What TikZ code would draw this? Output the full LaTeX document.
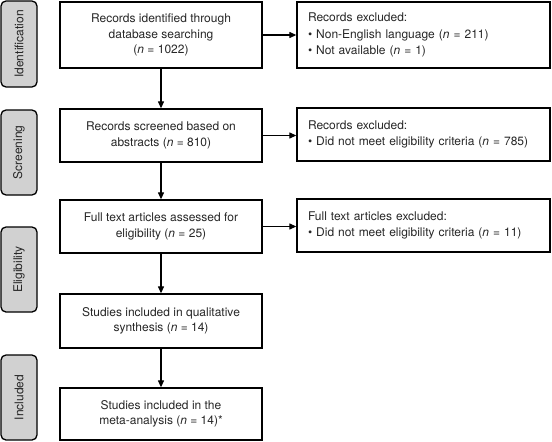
\documentclass[tikz,border=0pt]{standalone}
\usepackage{fontspec}
\setmainfont{TeX Gyre Heros}
\usetikzlibrary{arrows.meta}
\newcommand{\bul}{\textbullet\hspace{4pt}}
\begin{document}
\begin{tikzpicture}[x=1pt,y=-1pt,
  every node/.style={font=\fontsize{12}{15.5}\selectfont, text=black!85},
  mainbox/.style={draw=black, line width=1.3pt, minimum width=202pt, align=center, inner sep=0pt},
  exbox/.style={draw=black, line width=1.3pt, minimum width=253pt, text width=231pt, align=left, inner xsep=11pt, inner ysep=0pt, font=\fontsize{12}{16.5}\selectfont},
  phase/.style={draw=black, line width=1.3pt, fill=black!18, rounded corners=5pt, minimum width=36pt, inner sep=0pt},
  arr/.style={line width=1.2pt, -{Triangle[length=7pt,width=6pt]}}
]
\useasboundingbox (0,0) rectangle (552,442);
% phase labels
\node[phase, minimum height=86pt] (p1) at (19,44) {};
\node[rotate=90] at (p1.center) {Identification};
\node[phase, minimum height=85pt] (p2) at (19,152.5) {};
\node[rotate=90] at (p2.center) {Screening};
\node[phase, minimum height=85pt] (p3) at (19,269.5) {};
\node[rotate=90] at (p3.center) {Eligibility};
\node[phase, minimum height=85pt] (p4) at (19,397.5) {};
\node[rotate=90] at (p4.center) {Included};
% main boxes
\node[mainbox, minimum height=66pt] (b1) at (161,35) {Records identified through\\database searching\\(\textit{n} = 1022)};
\node[mainbox, minimum height=53pt] (b2) at (161,135.5) {Records screened based on\\abstracts (\textit{n} = 810)};
\node[mainbox, minimum height=53pt] (b3) at (161,226.5) {Full text articles assessed for\\eligibility (\textit{n} = 25)};
\node[mainbox, minimum height=54pt] (b4) at (161,321) {Studies included in qualitative\\synthesis (\textit{n} = 14)};
\node[mainbox, minimum height=52pt] (b5) at (161,414) {Studies included in the\\meta-analysis (\textit{n} = 14)*};
% exclusion boxes
\node[exbox, minimum height=66pt] (r1) at (423.5,35) {Records excluded:\\\bul Non-English language (\textit{n} = 211)\\\bul Not available (\textit{n} = 1)};
\node[exbox, minimum height=53pt] (r2) at (423.5,134.5) {Records excluded:\\\bul Did not meet eligibility criteria (\textit{n} = 785)};
\node[exbox, minimum height=53pt] (r3) at (423.5,225.5) {Full text articles excluded:\\\bul Did not meet eligibility criteria (\textit{n} = 11)};
% arrows
\draw[arr] (b1) -- (b2);
\draw[arr] (b2) -- (b3);
\draw[arr] (b3) -- (b4);
\draw[arr] (b4) -- (b5);
\draw[arr] (b1.east) -- (b1.east -| r1.west);
\draw[arr] (b2.east) -- (b2.east -| r2.west);
\draw[arr] (b3.east) -- (b3.east -| r3.west);
\end{tikzpicture}
\end{document}
